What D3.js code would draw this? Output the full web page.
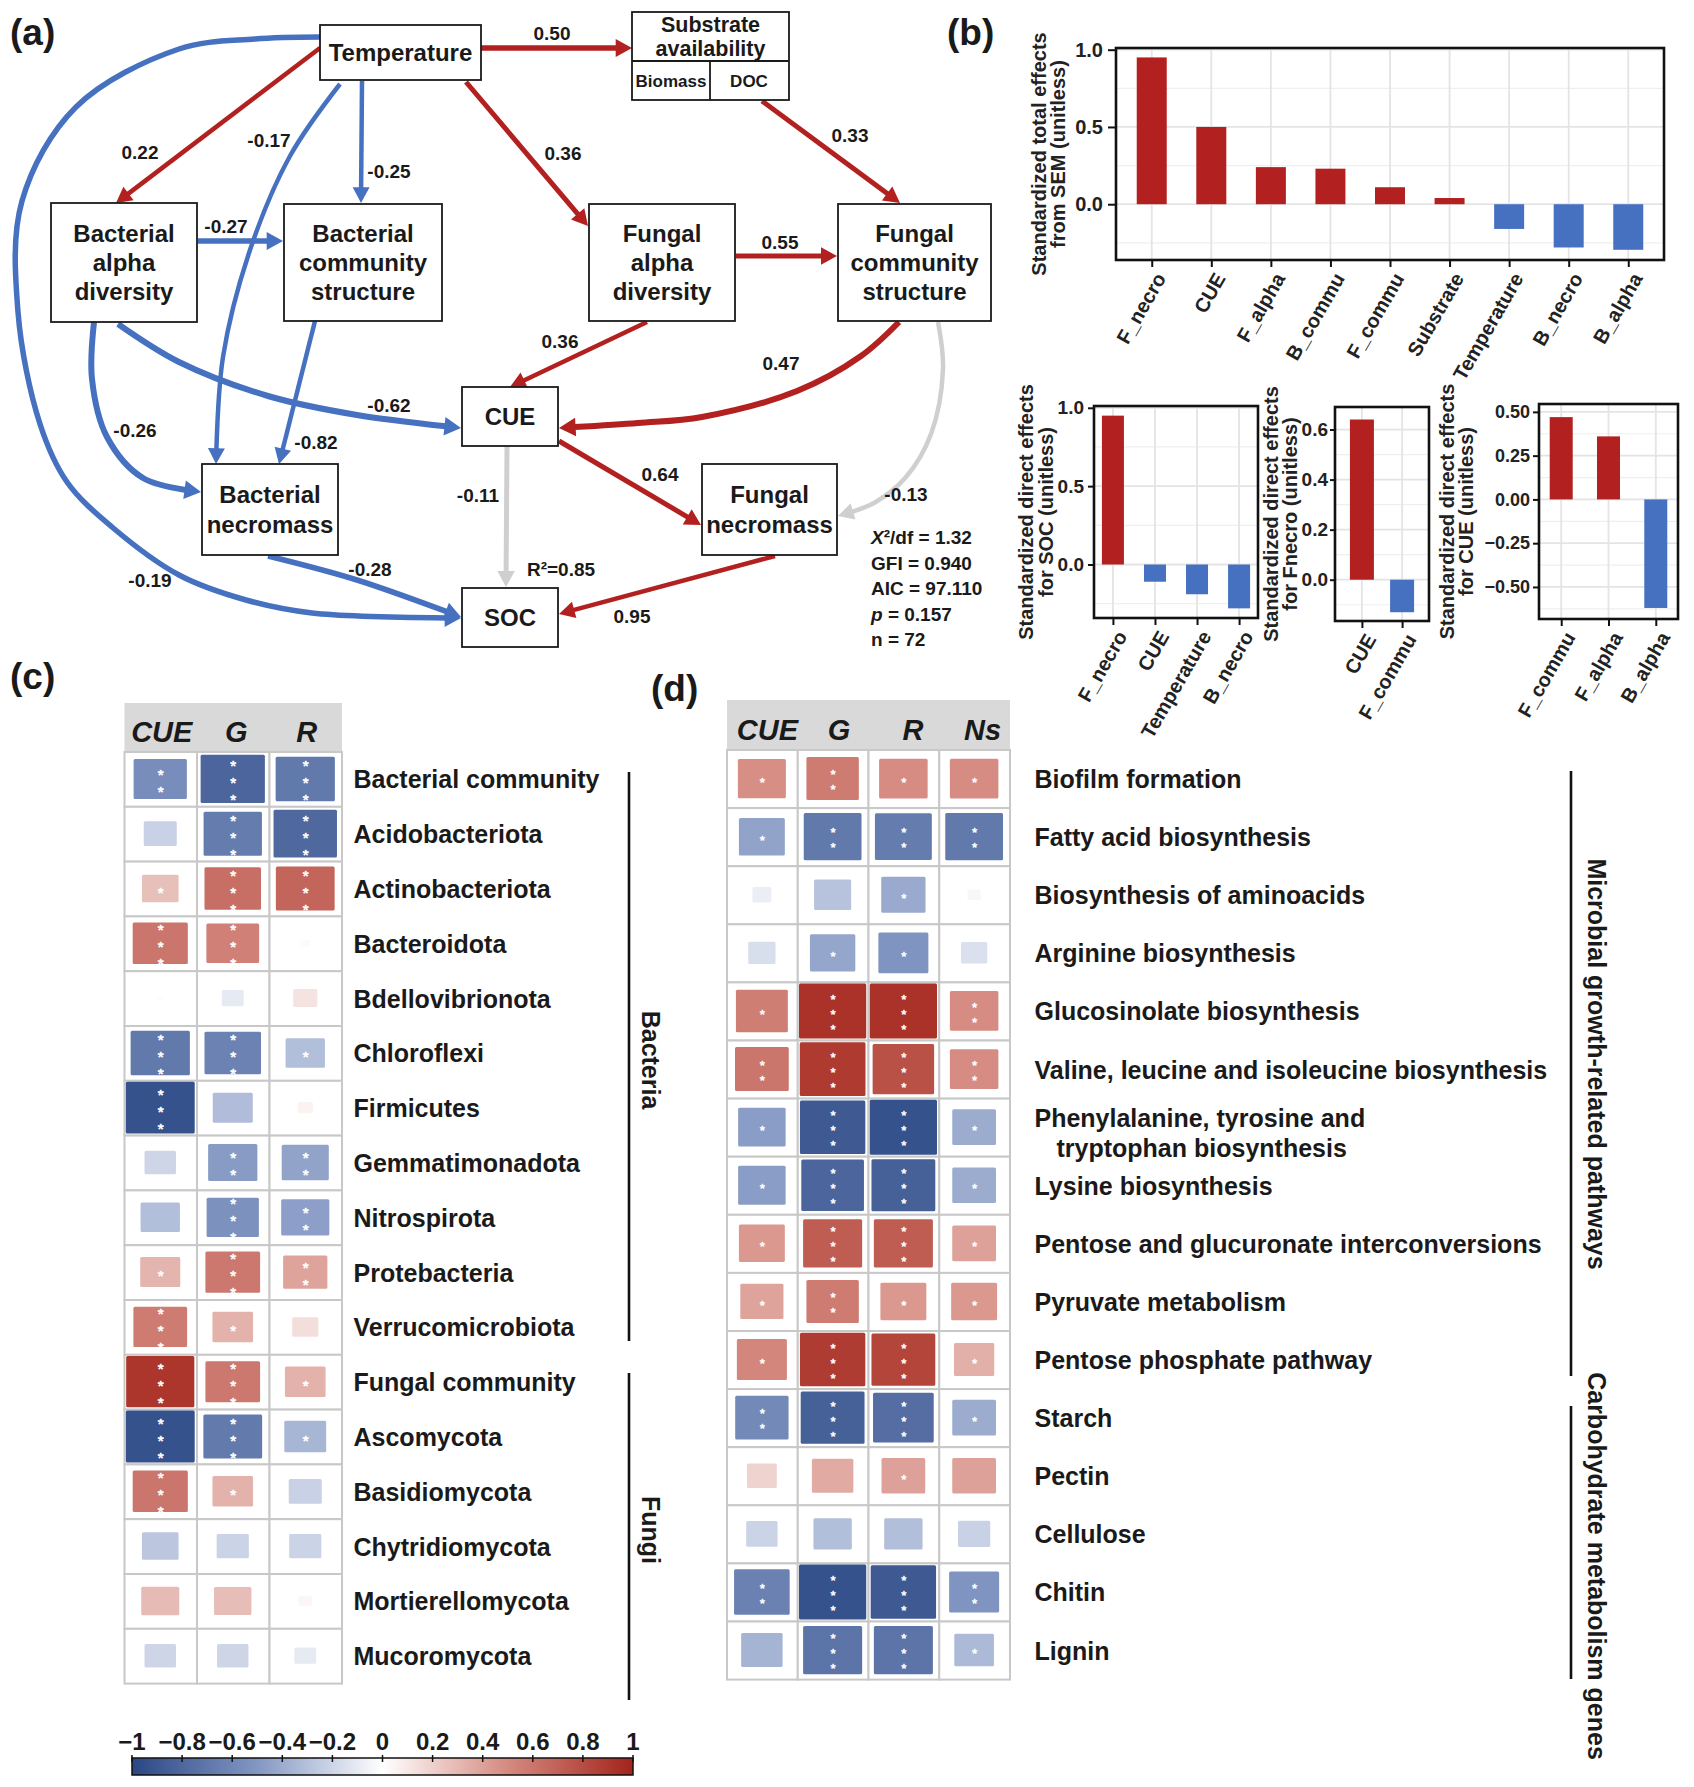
<!DOCTYPE html>
<html><head><meta charset="utf-8">
<script src="https://cdn.jsdelivr.net/npm/d3@7"></script>
<style>
body{margin:0;background:#fff;}
svg{display:block;font-family:"Liberation Sans",Arial,Helvetica,sans-serif;}
</style></head><body>
<svg id="fig" width="1694" height="1787"></svg>
<script>
// ---------------- DATA ----------------
// (a) SEM path coefficients
const semFrom=["Temperature","Temperature","Temperature","Temperature","Temperature","Temperature","Substrate","Balpha","Balpha","Balpha","Bcomm","Falpha","Falpha","Fcomm","Fcomm","CUE","CUE","Bnecro","Fnecro"];
const semTo  =["Substrate","Balpha","Bcomm","Bnecro","SOC","Falpha","Fcomm","Bcomm","CUE","Bnecro","Bnecro","Fcomm","CUE","CUE","Fnecro","Fnecro","SOC","SOC","SOC"];
const semCoef=[0.50,0.22,-0.25,-0.17,-0.19,0.36,0.33,-0.27,-0.62,-0.26,-0.82,0.55,0.36,0.47,-0.13,0.64,-0.11,-0.28,0.95];
const semSig =[1,1,1,1,1,1,1,1,1,1,1,1,1,1,0,1,0,1,1];
const semStats=["X²/df = 1.32","GFI = 0.940","AIC = 97.110","p = 0.157","n = 72"];
const socR2="R²=0.85";

// (b) effects
const totalCats=["F_necro","CUE","F_alpha","B_commu","F_commu","Substrate","Temperature","B_necro","B_alpha"];
const totalVals=[0.95,0.50,0.24,0.23,0.11,0.04,-0.16,-0.28,-0.295];
const socCats=["F_necro","CUE","Temperature","B_necro"];
const socVals=[0.95,-0.11,-0.19,-0.28];
const fnecroCats=["CUE","F_commu"];
const fnecroVals=[0.64,-0.13];
const cueCats=["F_commu","F_alpha","B_alpha"];
const cueVals=[0.47,0.36,-0.62];

// (c) correlations with taxa
const cCols=["CUE","G","R"];
const cRows=["Bacterial community","Acidobacteriota","Actinobacteriota","Bacteroidota","Bdellovibrionota","Chloroflexi","Firmicutes","Gemmatimonadota","Nitrospirota","Protebacteria","Verrucomicrobiota","Fungal community","Ascomycota","Basidiomycota","Chytridiomycota","Mortierellomycota","Mucoromycota"];
const cCUE=[-0.56,-0.22,0.27,0.60,0.01,-0.69,-0.93,-0.20,-0.31,0.32,0.57,0.91,-0.93,0.60,-0.27,0.29,-0.20];
const cG  =[-0.81,-0.67,0.63,0.55,-0.10,-0.63,-0.32,-0.48,-0.54,0.59,0.33,0.59,-0.68,0.33,-0.21,0.28,-0.20];
const cR  =[-0.69,-0.79,0.68,0.02,0.12,-0.31,0.05,-0.44,-0.46,0.39,0.14,0.33,-0.35,-0.22,-0.21,0.04,-0.10];
const cSigCUE=[2,0,1,3,0,3,3,0,0,1,3,3,3,3,0,0,0];
const cSigG  =[3,3,3,3,0,3,0,2,3,3,1,3,3,1,0,0,0];
const cSigR  =[3,3,3,0,0,1,0,2,2,2,0,1,1,0,0,0,0];
const cGroups=["Bacteria","Fungi"];

// (d) correlations with functional genes
const dCols=["CUE","G","R","Ns"];
const dRows=["Biofilm formation","Fatty acid biosynthesis","Biosynthesis of aminoacids","Arginine biosynthesis","Glucosinolate biosynthesis","Valine, leucine and isoleucine biosynthesis","Phenylalanine, tyrosine and|tryptophan biosynthesis","Lysine biosynthesis","Pentose and glucuronate interconversions","Pyruvate metabolism","Pentose phosphate pathway","Starch","Pectin","Cellulose","Chitin","Lignin"];
const dCUE=[0.48,-0.44,-0.08,-0.16,0.56,0.60,-0.47,-0.47,0.44,0.39,0.52,-0.59,0.19,-0.21,-0.64,-0.36];
const dG  =[0.57,-0.69,-0.29,-0.43,0.93,0.89,-0.88,-0.81,0.72,0.57,0.88,-0.84,0.36,-0.31,-0.93,-0.72];
const dR  =[0.49,-0.67,-0.41,-0.52,0.93,0.78,-0.93,-0.84,0.72,0.44,0.84,-0.76,0.40,-0.31,-0.88,-0.72];
const dNs =[0.49,-0.69,-0.04,-0.15,0.49,0.49,-0.40,-0.40,0.40,0.44,0.34,-0.40,0.40,-0.22,-0.52,-0.33];
const dSigCUE=[1,1,0,0,1,2,1,1,1,1,1,2,0,0,2,0];
const dSigG  =[2,2,0,1,3,3,3,3,3,2,3,3,0,0,3,3];
const dSigR  =[1,2,1,1,3,3,3,3,3,1,3,3,1,0,3,3];
const dSigNs =[1,2,0,0,2,2,1,1,1,1,1,1,0,0,2,1];
const dGroups=["Microbial growth-related pathways","Carbohydrate metabolism genes"];

// colour bar
const cbTicks=[-1,-0.8,-0.6,-0.4,-0.2,0,0.2,0.4,0.6,0.8,1];
const cbLabels=["−1","−0.8","−0.6","−0.4","−0.2","0","0.2","0.4","0.6","0.8","1"];

// ---------------- STYLE / LAYOUT ----------------
const RED="#B2201F", BLUE="#4671C0", GREY="#CFCFCF", INK="#1a1a1a";
const colorStops=[-1,-0.5,0,0.5,1];
const colorRange=["#2A4784","#8397C3","#FFFFFF","#D58A80","#A3241A"];
const color=d3.scaleLinear().domain(colorStops).range(colorRange);

const svg=d3.select("#fig");
svg.append("rect").attr("width",1694).attr("height",1787).attr("fill","#fff");

const panelLabels=[{t:"(a)",x:10,y:45},{t:"(b)",x:947,y:45},{t:"(c)",x:10,y:689},{t:"(d)",x:651,y:701}];
svg.selectAll("text.pl").data(panelLabels).join("text").attr("class","pl")
  .attr("x",d=>d.x).attr("y",d=>d.y).text(d=>d.t)
  .attr("font-size",37).attr("font-weight","bold").attr("fill",INK);

// ================= (a) SEM =================
const semNodes=[
 {id:"Temperature",lines:["Temperature"],box:[320,25,481,80]},
 {id:"Substrate",lines:[],box:[632,12,789,100]},
 {id:"Balpha",lines:["Bacterial","alpha","diversity"],box:[51,203,197,322]},
 {id:"Bcomm",lines:["Bacterial","community","structure"],box:[284,204,442,321]},
 {id:"Falpha",lines:["Fungal","alpha","diversity"],box:[589,204,735,321]},
 {id:"Fcomm",lines:["Fungal","community","structure"],box:[838,204,991,321]},
 {id:"CUE",lines:["CUE"],box:[462,387,558,446]},
 {id:"Bnecro",lines:["Bacterial","necromass"],box:[202,464,338,555]},
 {id:"Fnecro",lines:["Fungal","necromass"],box:[702,464,837,555]},
 {id:"SOC",lines:["SOC"],box:[462,588,558,647]}
];
const semRoutes=[
 {pts:[[481,48],[632,48]],w:5.5,lab:[552,33]},
 {pts:[[320,48],[116,203]],w:4.5,lab:[140,152]},
 {pts:[[362,81],[361,203]],w:4.5,lab:[389,171]},
 {pts:[[340,84],[290,156],[250,250],[223,357],[216,464]],w:4.5,lab:[269,140]},
 {pts:[[320,37],[255,39],[179,49],[76,107],[22,201],[18,312],[40,424],[67,482],[112,527],[179,575],[246,600],[312,613],[461,618]],w:5.5,lab:[150,580]},
 {pts:[[466,82],[588,226]],w:5,lab:[563,153]},
 {pts:[[762,101],[900,203]],w:5,lab:[850,135]},
 {pts:[[198,241],[283,241]],w:5.5,lab:[226,226]},
 {pts:[[118,324],[179,362],[268,396],[357,415],[461,428]],w:6,lab:[389,405]},
 {pts:[[94,322],[92,379],[107,437],[143,478],[201,492]],w:6,lab:[135,430]},
 {pts:[[315,321],[279,464]],w:4.5,lab:[316,442]},
 {pts:[[736,256],[837,256]],w:5,lab:[780,242]},
 {pts:[[647,322],[510,387]],w:4.5,lab:[560,341]},
 {pts:[[899,322],[861,356],[797,391],[702,417],[638,423],[559,428]],w:6,lab:[781,363]},
 {pts:[[938,322],[943,369],[931,434],[906,477],[874,503],[838,516]],w:4.5,lab:[906,494]},
 {pts:[[559,441],[701,525]],w:5,lab:[660,474]},
 {pts:[[507,447],[506,587]],w:5,lab:[478,495]},
 {pts:[[268,556],[357,580],[461,617]],w:5.5,lab:[370,569]},
 {pts:[[775,556],[559,614]],w:4.5,lab:[632,616]}
];
const gA=svg.append("g");
const lineGen=d3.line().curve(d3.curveCatmullRom.alpha(0.5));
const edges=semCoef.map((c,i)=>({from:semFrom[i],to:semTo[i],coef:c,sig:semSig[i],route:semRoutes[i]}));
edges.forEach(e=>{
  const col=!e.sig?GREY:(e.coef>0?RED:BLUE);
  const p=gA.append("path").attr("d",lineGen(e.route.pts)).attr("fill","none")
    .attr("stroke",col).attr("stroke-width",e.route.w);
  const node=p.node(); const L=node.getTotalLength();
  const ah=13+e.route.w*0.6, hw=6+e.route.w*0.55;
  const tip=node.getPointAtLength(L), base=node.getPointAtLength(Math.max(0,L-ah));
  p.attr("stroke-dasharray",`${L-ah+1} ${L+10}`);
  let dx=tip.x-base.x, dy=tip.y-base.y; const m=Math.hypot(dx,dy)||1; dx/=m; dy/=m;
  const bx=tip.x-dx*ah, by=tip.y-dy*ah;
  gA.append("path").attr("d",`M${tip.x},${tip.y}L${bx-dy*hw},${by+dx*hw}L${bx+dy*hw},${by-dx*hw}Z`).attr("fill",col);
});
// nodes
semNodes.forEach(n=>{
  const [x0,y0,x1,y1]=n.box;
  gA.append("rect").attr("x",x0).attr("y",y0).attr("width",x1-x0).attr("height",y1-y0)
    .attr("fill","#fff").attr("stroke",INK).attr("stroke-width",1.8);
  const cx=(x0+x1)/2, cy=(y0+y1)/2, k=n.lines.length, gap=29.3;
  n.lines.forEach((t,j)=>{
    gA.append("text").attr("x",cx).attr("y",cy+(j-(k-1)/2)*gap+8.5).attr("text-anchor","middle")
      .attr("font-size",24).attr("font-weight","bold").attr("fill",INK).text(t);
  });
});
// substrate availability detail
(function(){
  const b=semNodes.find(n=>n.id==="Substrate").box; const cx=(b[0]+b[2])/2;
  gA.append("text").attr("x",cx).attr("y",32).attr("text-anchor","middle").attr("font-size",21.5).attr("font-weight","bold").attr("fill",INK).text("Substrate");
  gA.append("text").attr("x",cx).attr("y",56).attr("text-anchor","middle").attr("font-size",21.5).attr("font-weight","bold").attr("fill",INK).text("availability");
  gA.append("line").attr("x1",b[0]).attr("x2",b[2]).attr("y1",61).attr("y2",61).attr("stroke",INK).attr("stroke-width",1.8);
  gA.append("line").attr("x1",710).attr("x2",710).attr("y1",61).attr("y2",b[3]).attr("stroke",INK).attr("stroke-width",1.8);
  gA.append("text").attr("x",671).attr("y",87).attr("text-anchor","middle").attr("font-size",17).attr("font-weight","bold").attr("fill",INK).text("Biomass");
  gA.append("text").attr("x",749).attr("y",87).attr("text-anchor","middle").attr("font-size",17).attr("font-weight","bold").attr("fill",INK).text("DOC");
})();
// coefficient labels
edges.forEach(e=>{
  const t=e.coef<0?"-"+Math.abs(e.coef).toFixed(2):e.coef.toFixed(2);
  gA.append("text").attr("x",e.route.lab[0]).attr("y",e.route.lab[1]+7).attr("text-anchor","middle")
    .attr("font-size",19).attr("font-weight","bold").attr("fill",INK).text(t);
});
gA.append("text").attr("x",561).attr("y",576).attr("text-anchor","middle").attr("font-size",19).attr("font-weight","bold").attr("fill",INK).text(socR2);
semStats.forEach((s,i)=>{
  const t=gA.append("text").attr("x",871).attr("y",544+i*25.6).attr("font-size",19).attr("font-weight","bold").attr("fill",INK);
  if(i===0){t.append("tspan").attr("font-style","italic").text("X");t.append("tspan").text(s.slice(1));}
  else if(i===3){t.append("tspan").attr("font-style","italic").text("p");t.append("tspan").text(s.slice(1));}
  else t.text(s);
});

// ================= (b) bar charts =================
function barChart(c){
  const g=svg.append("g");
  const n=c.cats.length;
  const step=(c.x1-c.x0)/(n-1+2*c.pad);
  const x=d3.scalePoint().domain(c.cats).range([c.x0+c.pad*step,c.x1-c.pad*step]);
  const y=d3.scaleLinear().domain(c.domain).range([c.y1,c.y0]);
  g.append("rect").attr("x",c.x0).attr("y",c.y0).attr("width",c.x1-c.x0).attr("height",c.y1-c.y0).attr("fill","#fff");
  g.selectAll("line.mn").data(c.minor).join("line").attr("x1",c.x0).attr("x2",c.x1)
    .attr("y1",d=>y(d)).attr("y2",d=>y(d)).attr("stroke","#efefef").attr("stroke-width",1.2);
  g.selectAll("line.mj").data(c.ticks).join("line").attr("x1",c.x0).attr("x2",c.x1)
    .attr("y1",d=>y(d)).attr("y2",d=>y(d)).attr("stroke","#e4e4e4").attr("stroke-width",1.8);
  g.selectAll("line.vx").data(c.cats).join("line").attr("x1",d=>x(d)).attr("x2",d=>x(d))
    .attr("y1",c.y0).attr("y2",c.y1).attr("stroke","#e4e4e4").attr("stroke-width",1.8);
  const bw=c.barW;
  g.selectAll("rect.bar").data(c.vals).join("rect").attr("class","bar")
    .attr("x",(d,i)=>x(c.cats[i])-bw/2).attr("width",bw)
    .attr("y",d=>y(Math.max(0,d))).attr("height",d=>Math.abs(y(d)-y(0)))
    .attr("fill",d=>d>=0?RED:BLUE);
  g.append("rect").attr("x",c.x0).attr("y",c.y0).attr("width",c.x1-c.x0).attr("height",c.y1-c.y0)
    .attr("fill","none").attr("stroke","#111").attr("stroke-width",2.6);
  const ay=g.append("g").attr("transform",`translate(${c.x0},0)`)
    .call(d3.axisLeft(y).tickValues(c.ticks).tickFormat(d3.format(c.fmt)).tickSize(c.tsz).tickPadding(c.tpad));
  const ax=g.append("g").attr("transform",`translate(0,${c.y1})`)
    .call(d3.axisBottom(x).tickSize(7).tickPadding(4));
  [ay,ax].forEach(a=>{a.select(".domain").remove();
    a.selectAll(".tick line").attr("stroke","#111").attr("stroke-width",2);
    a.selectAll(".tick text").attr("font-size",c.fs).attr("font-weight","bold").attr("fill","#222")
      .attr("font-family","Liberation Sans, Arial, sans-serif");});
  ax.selectAll(".tick text").attr("font-size",20).attr("x",0).attr("y",0).attr("dy","0.72em").attr("text-anchor","end")
    .attr("transform","translate(2,11) rotate(-60)");
  const cy=(c.y0+c.y1)/2;
  c.title.forEach((t,i)=>{
    g.append("text").attr("transform",`translate(${c.titleX[i]},${cy}) rotate(-90)`).attr("dy","0.35em")
      .attr("text-anchor","middle").attr("font-size",20).attr("font-weight","bold").attr("fill","#222").text(t);
  });
}
barChart({cats:totalCats,vals:totalVals,x0:1116,x1:1664,y0:48,y1:260,domain:[-0.361,1.011],ticks:[0,0.5,1],minor:[-0.25,0.25,0.75],fmt:".1f",pad:0.6,barW:30,fs:20,tsz:8,tpad:5,title:["Standardized total effects","from SEM (unitless)"],titleX:[1039,1058]});
barChart({cats:socCats,vals:socVals,x0:1094,x1:1258,y0:406,y1:618,domain:[-0.3415,1.0115],ticks:[0,0.5,1],minor:[-0.25,0.25,0.75],fmt:".1f",pad:0.45,barW:22,fs:19,tsz:6,tpad:4,title:["Standardized direct effects","for SOC (unitless)"],titleX:[1026,1046]});
barChart({cats:fnecroCats,vals:fnecroVals,x0:1335,x1:1429,y0:407,y1:621,domain:[-0.165,0.69],ticks:[0,0.2,0.4,0.6],minor:[-0.1,0.1,0.3,0.5],fmt:".1f",pad:0.67,barW:24,fs:19,tsz:5,tpad:2,title:["Standardized direct effects","for Fnecro (unitless)"],titleX:[1271,1290]});
barChart({cats:cueCats,vals:cueVals,x0:1539,x1:1678,y0:404,y1:619,domain:[-0.683,0.545],ticks:[-0.5,-0.25,0,0.25,0.5],minor:[-0.625,-0.375,-0.125,0.125,0.375],fmt:".2f",pad:0.47,barW:23,fs:18,tsz:6,tpad:3,title:["Standardized direct effects","for CUE (unitless)"],titleX:[1447,1466]});

// ================= heatmaps =================
function heatmap(c){
  const g=svg.append("g");
  const nR=c.rows.length, nC=c.cols.length;
  const xs=d3.scaleBand().domain(d3.range(nC)).range([c.x0,c.x0+nC*c.colW]);
  const ys=d3.scaleBand().domain(d3.range(nR)).range([c.y0,c.y0+nR*c.rowH]);
  g.append("rect").attr("x",c.x0).attr("y",c.hdrTop).attr("width",nC*c.colW).attr("height",c.y0-c.hdrTop).attr("fill","#d9d9d9");
  c.cols.forEach((t,i)=>g.append("text").attr("x",xs(i)+c.colW/2+c.hdrDx[i]).attr("y",c.hdrBase)
    .attr("text-anchor","middle").attr("font-size",29).attr("font-weight","bold").attr("font-style","italic").attr("fill",INK).text(t));
  const cells=[];
  for(let r=0;r<nR;r++)for(let k=0;k<nC;k++)cells.push({r,k,v:c.values[k][r],s:c.sigs[k][r]});
  g.selectAll("rect.cell").data(cells).join("rect").attr("x",d=>xs(d.k)).attr("y",d=>ys(d.r))
    .attr("width",c.colW).attr("height",c.rowH).attr("fill","#fff").attr("stroke","#c8c8c8").attr("stroke-width",2);
  const sz=d3.scaleSqrt().domain([0,1]).range([0,1]);
  g.selectAll("rect.val").data(cells).join("rect")
    .attr("x",d=>xs(d.k)+c.colW*(1-sz(Math.abs(d.v)))/2).attr("y",d=>ys(d.r)+c.rowH*(1-sz(Math.abs(d.v)))/2)
    .attr("width",d=>Math.max(0,c.colW*sz(Math.abs(d.v))-1)).attr("height",d=>Math.max(0,c.rowH*sz(Math.abs(d.v))-1))
    .attr("rx",1.5).attr("fill",d=>color(d.v));
  // significance asterisks (one text per star)
  const stars=[];
  cells.forEach(d=>{for(let j=0;j<d.s;j++)stars.push({x:xs(d.k)+c.colW/2,y:ys(d.r)+c.rowH/2+(j-(d.s-1)/2)*c.starGap});});
  g.selectAll("text.star").data(stars).join("text").attr("class","star")
    .attr("x",d=>d.x).attr("y",d=>d.y+c.starFs*0.57).attr("text-anchor","middle")
    .attr("font-size",c.starFs)
    .attr("fill","#fff").attr("stroke","#fff").attr("stroke-width",c.starW).attr("stroke-linejoin","round")
    .text("*");
  c.rows.forEach((t,i)=>{
    const parts=t.split("|"); const cy=ys(i)+c.rowH/2;
    if(parts.length===1){
      g.append("text").attr("x",c.labelX).attr("y",cy+9).attr("font-size",25).attr("font-weight","bold").attr("fill",INK).text(t);
    } else {
      const tt=g.append("text").attr("x",c.labelX).attr("y",cy-1).attr("font-size",25).attr("font-weight","bold").attr("fill",INK);
      tt.append("tspan").attr("x",c.labelX).text(parts[0]);
      tt.append("tspan").attr("x",c.labelX+22).attr("dy",30).text(parts[1]);
    }
  });
  c.groups.forEach((t,i)=>{
    const gr=c.groupPos[i];
    g.append("line").attr("x1",c.bracketX).attr("x2",c.bracketX).attr("y1",gr[0]).attr("y2",gr[1]).attr("stroke","#111").attr("stroke-width",2.6);
    g.append("text").attr("transform",`translate(${c.groupTextX},${gr[2]}) rotate(90)`).attr("dy","0.35em")
      .attr("text-anchor","middle").attr("font-size",25).attr("font-weight","bold").attr("fill",INK).text(t);
  });
}
heatmap({cols:cCols,rows:cRows,values:[cCUE,cG,cR],sigs:[cSigCUE,cSigG,cSigR],x0:124.5,colW:72.5,y0:752,rowH:54.8,hdrTop:703,hdrBase:742,hdrDx:[1,3,1],
  labelX:353.5,starFs:15.2,starW:0.6,starGap:17,groups:cGroups,groupPos:[[772,1341,1060],[1373,1700,1530]],bracketX:629,groupTextX:651});
heatmap({cols:dCols,rows:dRows,values:[dCUE,dG,dR,dNs],sigs:[dSigCUE,dSigG,dSigR,dSigNs],x0:727,colW:70.75,y0:750,rowH:58.1,hdrTop:700,hdrBase:740,hdrDx:[5,6,9,8],
  labelX:1034.5,starFs:13.4,starW:0.5,starGap:15,groups:dGroups,groupPos:[[771,1376,1064],[1406,1679,1566]],bracketX:1571,groupTextX:1597});

// ================= colour bar =================
(function(){
  const x=d3.scaleLinear().domain([-1,1]).range([132,633]);
  const defs=svg.append("defs");
  const lg=defs.append("linearGradient").attr("id","cbg").attr("x1","0%").attr("x2","100%");
  d3.range(0,1.0001,0.05).forEach(t=>lg.append("stop").attr("offset",(t*100)+"%").attr("stop-color",color(-1+2*t)));
  svg.append("rect").attr("x",x(-1)).attr("y",1758).attr("width",x(1)-x(-1)).attr("height",17)
    .attr("fill","url(#cbg)").attr("stroke","#111").attr("stroke-width",1.5);
  svg.selectAll("line.cbt").data(cbTicks).join("line").attr("x1",d=>x(d)).attr("x2",d=>x(d))
    .attr("y1",1755).attr("y2",1762).attr("stroke","#111").attr("stroke-width",1.5);
  svg.selectAll("text.cbl").data(cbTicks).join("text").attr("x",d=>x(d)).attr("y",1750)
    .attr("text-anchor","middle").attr("font-size",24).attr("font-weight","bold").attr("fill",INK)
    .text((d,i)=>cbLabels[i]);
})();
</script></body></html>
